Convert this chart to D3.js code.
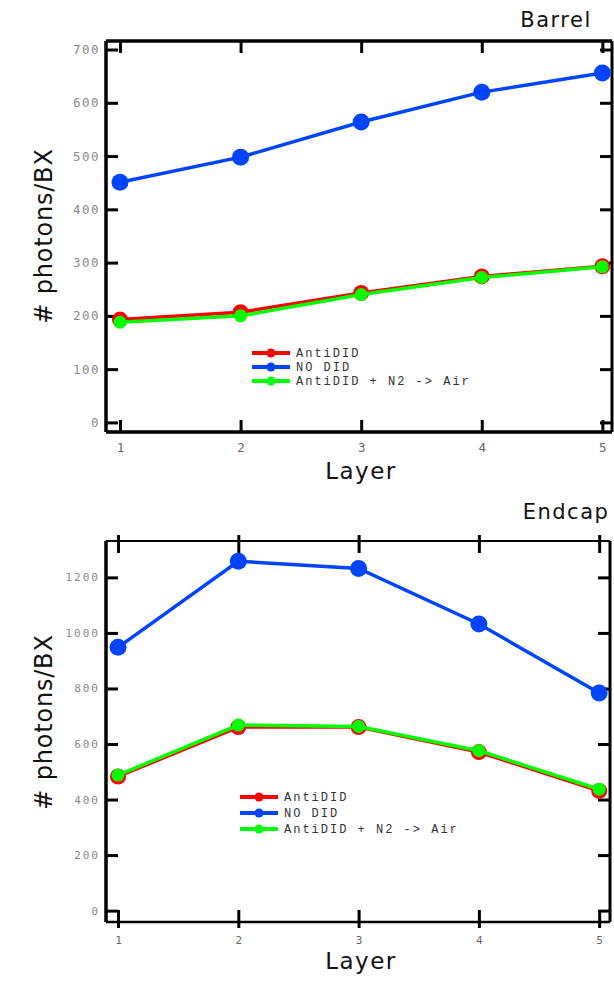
<!DOCTYPE html>
<html><head><meta charset="utf-8">
<script src="https://cdn.jsdelivr.net/npm/d3@7"></script>
<style>body{margin:0;background:#fff}svg{display:block}</style>
</head><body>
<svg id="c" width="614" height="982"></svg>
<script>
const layers = [1, 2, 3, 4, 5];
const seriesNames = ["AntiDID", "NO DID", "AntiDID + N2 -> Air"];
const seriesColors = ["#ff0000", "#0044ff", "#00ff00"];
const barrelAnti = [193, 207, 243, 274, 293];
const barrelNoDID = [451, 498, 564, 620, 656];
const barrelAir = [188, 200, 240, 272, 292];
const endcapAnti = [483, 661, 661, 571, 431];
const endcapNoDID = [948, 1258, 1232, 1032, 784];
const endcapAir = [488, 668, 663, 576, 437];
const barrelTicks = [0, 100, 200, 300, 400, 500, 600, 700];
const endcapTicks = [0, 200, 400, 600, 800, 1000, 1200];

const svg = d3.select("#c");

function panel(cfg) {
  const g = svg.append("g");
  const x = d3.scaleLinear().domain(cfg.xdom).range([cfg.left, cfg.right]);
  const y = d3.scaleLinear().domain(cfg.ydom).range([cfg.bottom, cfg.top]);

  // frame
  g.append("line").attr("x1", cfg.left).attr("x2", cfg.right).attr("y1", cfg.top).attr("y2", cfg.top).attr("stroke", "#000").attr("stroke-width", cfg.topW);
  g.append("line").attr("x1", cfg.left).attr("x2", cfg.right).attr("y1", cfg.bottom).attr("y2", cfg.bottom).attr("stroke", "#000").attr("stroke-width", cfg.botW);
  g.append("line").attr("x1", cfg.left).attr("x2", cfg.left).attr("y1", cfg.top).attr("y2", cfg.bottom).attr("stroke", "#000").attr("stroke-width", 3.5);
  g.append("line").attr("x1", cfg.right).attr("x2", cfg.right).attr("y1", cfg.top).attr("y2", cfg.bottom).attr("stroke", "#000").attr("stroke-width", cfg.rightW);

  // axes
  const ax = (sel, axis) => {
    sel.call(axis);
    sel.select(".domain").remove();
    sel.selectAll(".tick line").attr("stroke", "#000").attr("stroke-width", 3);
  };
  const left = g.append("g").attr("transform", `translate(${cfg.left},0)`);
  ax(left, d3.axisLeft(y).tickValues(cfg.yticks).tickSize(-12).tickPadding(cfg.yPad).tickFormat(d3.format("d")));
  left.selectAll(".tick text").attr("font-family", "'DejaVu Sans Mono', monospace").attr("font-size", cfg.tickFs)
    .attr("letter-spacing", cfg.tickLs).attr("fill", "#8a8a8a");
  const right = g.append("g").attr("transform", `translate(${cfg.right},0)`);
  ax(right, d3.axisRight(y).tickValues(cfg.yticks).tickSize(-12).tickFormat(""));
  const bottom = g.append("g").attr("transform", `translate(0,${cfg.bottom})`);
  ax(bottom, d3.axisBottom(x).tickValues(layers).tickSize(-12).tickPadding(cfg.xPad).tickFormat(d3.format("d")));
  bottom.selectAll(".tick text").attr("font-family", "'DejaVu Sans Mono', monospace").attr("font-size", cfg.tickFs).attr("fill", "#666");
  const top = g.append("g").attr("transform", `translate(0,${cfg.top})`);
  ax(top, d3.axisTop(x).tickValues(layers).tickSize(-12).tickFormat(""));
  if (cfg.crossTicks) {
    bottom.selectAll(".tick line").attr("y1", 6);
    top.selectAll(".tick line").attr("y1", -6);
  }

  // title
  g.append("text").attr("x", cfg.titleX).attr("y", cfg.titleY).attr("text-anchor", "middle")
    .attr("font-family", "'DejaVu Sans', sans-serif").attr("font-size", 21).attr("letter-spacing", 1.5).attr("fill", "#111").text(cfg.title);
  // x label
  g.append("text").attr("x", 361).attr("y", cfg.bottom + 47).attr("text-anchor", "middle")
    .attr("font-family", "'DejaVu Sans', sans-serif").attr("font-size", 23).attr("letter-spacing", 1.5).attr("fill", "#111").text("Layer");
  // y label
  g.append("text").attr("transform", `translate(52,${cfg.ylabY}) rotate(-90)`).attr("text-anchor", "middle")
    .attr("font-family", "'DejaVu Sans', sans-serif").attr("font-size", 24).attr("letter-spacing", 0.8).attr("fill", "#111").text("# photons/BX");

  const line = d3.line().x((d, i) => x(layers[i])).y(d => y(d));
  const order = [1, 0, 2];
  const radii = [8, 8.5, 6.5];
  order.forEach(k => {
    const vals = cfg.series[k];
    g.append("path").datum(vals).attr("d", line).attr("fill", "none").attr("stroke", seriesColors[k]).attr("stroke-width", 3.5);
    g.selectAll(null).data(vals).enter().append("circle")
      .attr("cx", (d, i) => x(layers[i])).attr("cy", d => y(d)).attr("r", radii[k]).attr("fill", seriesColors[k]);
  });

  // legend
  seriesNames.forEach((name, k) => {
    const ly = cfg.legY + k * cfg.legDy;
    g.append("line").attr("x1", cfg.legX).attr("x2", cfg.legX + 38).attr("y1", ly).attr("y2", ly).attr("stroke", seriesColors[k]).attr("stroke-width", 4);
    g.append("circle").attr("cx", cfg.legX + 19).attr("cy", ly).attr("r", 4.5).attr("fill", seriesColors[k]);
    g.append("text").attr("x", cfg.legX + 44).attr("y", ly + 4).attr("font-family", "'Liberation Mono', monospace")
      .attr("font-size", 12).attr("letter-spacing", 2).attr("fill", "#333").text(name);
  });
}

panel({
  left: 106, right: 612, top: 41, bottom: 432,
  xdom: [0.884, 5.08], ydom: [-18, 716],
  yticks: barrelTicks, tickFs: 12.5, tickLs: 1.5, yPad: 6, xPad: 11,
  topW: 3.5, botW: 3.5, rightW: 3, crossTicks: false,
  title: "Barrel", titleX: 556, titleY: 27, ylabY: 236,
  series: [barrelAnti, barrelNoDID, barrelAir],
  legX: 252, legY: 353, legDy: 14
});

panel({
  left: 106, right: 610, top: 541, bottom: 922,
  xdom: [0.9, 5.09], ydom: [-41, 1331],
  yticks: endcapTicks, tickFs: 11, tickLs: 2, yPad: 6, xPad: 14,
  topW: 2, botW: 2.5, rightW: 3, crossTicks: true,
  title: "Endcap", titleX: 566, titleY: 519, ylabY: 722,
  series: [endcapAnti, endcapNoDID, endcapAir],
  legX: 240, legY: 797, legDy: 16
});
</script>
</body></html>
